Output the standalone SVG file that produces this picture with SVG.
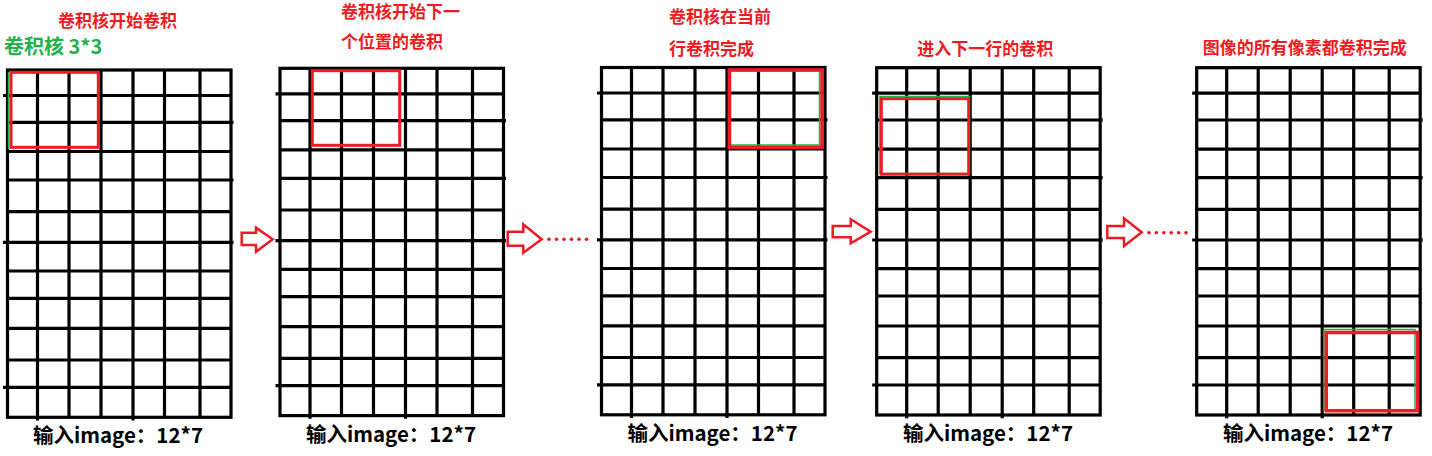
<svg xmlns="http://www.w3.org/2000/svg" xmlns:xlink="http://www.w3.org/1999/xlink" width="1432" height="456" viewBox="0 0 1432 456">
<style>
.gl{fill:none;stroke:#000;stroke-width:3.2}
.rk{fill:none;stroke:#ED1C24;stroke-width:3}
.gk{fill:none;stroke:#22B14C;stroke-width:1.5}
.ar{fill:#fff;stroke:#ED1C24;stroke-width:2.5;stroke-linejoin:miter}
.dot{fill:#ED1C24}
.rt{font-family:"Noto Sans CJK SC","Microsoft YaHei",sans-serif;font-weight:bold;font-size:17px;fill:#ED1C24}
.gt{font-family:"Noto Sans CJK SC","Microsoft YaHei",sans-serif;font-weight:bold;font-size:20px;fill:#22B14C}
.lb{font-family:"Noto Sans CJK SC","Microsoft YaHei",sans-serif;font-weight:bold;font-size:20.5px;fill:#000}
</style>
<defs>
<g id="grid">
<rect class="gl" x="0" y="0" width="223.5" height="347.3"/>
<path class="gl" d="M30,0V350.5 M61.5,0V347.3 M93.5,0V347.3 M125.5,0V350.5 M157,0V347.3 M192.5,0V347.3
M-4.5,25.5H223.5 M0,52.3H226 M0,81.5H223.5 M0,110H226 M0,141.7H223.5 M-4.5,172.3H226 M0,201H223.5 M0,228.3H223.5 M0,258.3H223.5 M0,290H223.5 M-4.5,317.3H223.5"/>
</g>
</defs>

<g id="node1">
<use xlink:href="#grid" href="#grid" x="7.5" y="70"/>
<line class="gk" x1="8.5" y1="72" x2="8.5" y2="149"/>
<rect class="rk" x="11" y="72.3" width="87.3" height="75"/>
<text class="rt" x="58" y="27">卷积核开始卷积</text>
<text class="gt" x="4" y="54">卷积核 3*3</text>
<text class="lb" x="33" y="443.3">输入image：12*7</text>
</g>

<g id="node2">
<use xlink:href="#grid" href="#grid" x="280" y="68.3"/>
<rect class="rk" x="312.3" y="70.7" width="87.4" height="74.6"/>
<text class="rt" x="341" y="17.5">卷积核开始下一</text>
<text class="rt" x="341" y="47.8">个位置的卷积</text>
<text class="lb" x="306" y="441.6">输入image：12*7</text>
</g>

<g id="node3">
<use xlink:href="#grid" href="#grid" x="601.5" y="67.5"/>
<rect class="gk" x="730.5" y="71" width="89" height="74"/>
<rect class="rk" x="729.3" y="70" width="92.7" height="77.3" style="stroke-width:3.5"/>
<text class="rt" x="669" y="22.5">卷积核在当前</text>
<text class="rt" x="669" y="54.5">行卷积完成</text>
<text class="lb" x="627.5" y="440.8">输入image：12*7</text>
</g>

<g id="node4">
<use xlink:href="#grid" href="#grid" x="876.7" y="67.7"/>
<rect class="gk" x="880" y="96.5" width="89.5" height="77"/>
<rect class="rk" x="881.3" y="98.7" width="87.4" height="75.5"/>
<text class="rt" x="917.3" y="54.5">进入下一行的卷积</text>
<text class="lb" x="903" y="441">输入image：12*7</text>
</g>

<g id="node5">
<use xlink:href="#grid" href="#grid" x="1196.7" y="67.7"/>
<rect class="gk" x="1324" y="329.5" width="91" height="80.5"/>
<rect class="rk" x="1326.3" y="332.5" width="91.4" height="78.2" style="stroke-width:3.5"/>
<text class="rt" x="1202.7" y="53.5">图像的所有像素都卷积完成</text>
<text class="lb" x="1223" y="441">输入image：12*7</text>
</g>

<g id="connectors">
<polygon class="ar" points="241.7,232.7 256,232.7 256,227.7 272.7,239.3 256,251.7 256,245 241.7,245"/>
<polygon class="ar" points="507.7,231.7 523.3,231.7 523.3,224.3 541.7,239.3 523.3,252.7 523.3,245.7 507.7,245.7"/>
<g class="dot">
<circle cx="549" cy="239.3" r="1.8"/><circle cx="556.5" cy="239.3" r="1.8"/><circle cx="564" cy="239.3" r="1.8"/><circle cx="571.5" cy="239.3" r="1.8"/><circle cx="579" cy="239.3" r="1.8"/><circle cx="586.5" cy="239.3" r="1.8"/>
</g>
<polygon class="ar" points="832.7,226 850.7,226 850.7,219.3 870.7,231.7 850.7,243.3 850.7,237.3 832.7,237.3"/>
<polygon class="ar" points="1107.3,226 1124,226 1124,218.3 1141.7,232.3 1124,246 1124,238 1107.3,238"/>
<g class="dot">
<circle cx="1149" cy="232.7" r="1.8"/><circle cx="1156.4" cy="232.7" r="1.8"/><circle cx="1163.8" cy="232.7" r="1.8"/><circle cx="1171.2" cy="232.7" r="1.8"/><circle cx="1178.6" cy="232.7" r="1.8"/><circle cx="1186" cy="232.7" r="1.8"/>
</g>
</g>
</svg>
